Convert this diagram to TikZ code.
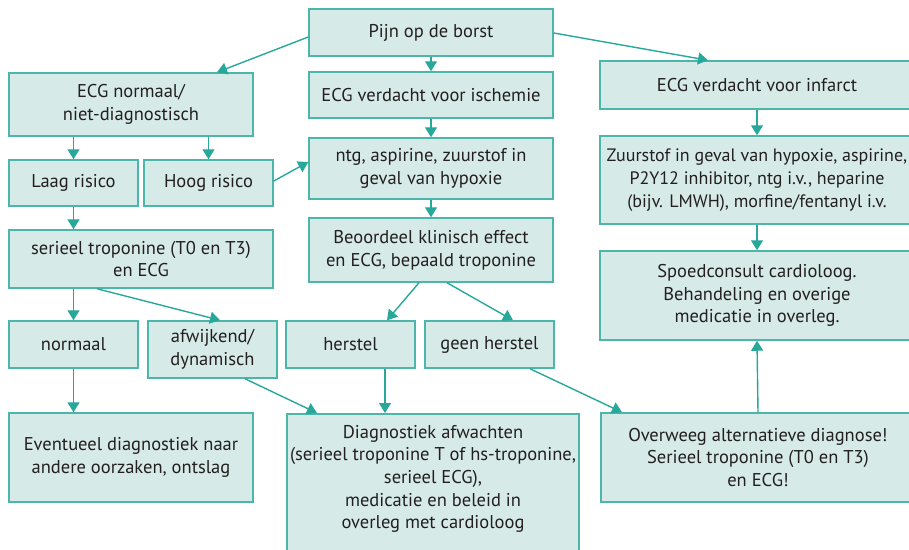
\documentclass[tikz,border=0pt]{standalone}
\usepackage{fontspec}
\setmainfont{PT Sans}
\usetikzlibrary{arrows.meta,calc}
\definecolor{boxfill}{HTML}{D6EAE7}
\definecolor{boxline}{HTML}{4DB6AA}
\definecolor{arrowcol}{HTML}{27A89A}
\definecolor{txtcol}{HTML}{231F20}
\tikzset{
  box/.style={draw=boxline, fill=boxfill, line width=1.5pt, inner sep=0pt,
    align=center, text=txtcol, font=\fontsize{18.5}{22.7}\selectfont},
  txt/.style={align=center, text=txtcol, inner sep=0pt, font=\fontsize{18.5}{22.7}\selectfont},
  flow/.style={draw=arrowcol, line width=1.4pt, -{Triangle[width=12pt,length=10pt]}}
}
\begin{document}
\begin{tikzpicture}[x=1pt,y=-1pt]
\useasboundingbox (0,0) rectangle (909,549);
\clip (0,0) rectangle (909,549);

% first row
\node[box, minimum width=244, minimum height=47] (pijn) at (431,32.5) {Pijn op de borst};
\node[box, minimum width=244, minimum height=63] (nd) at (131,104.5) {ECG normaal/\\niet-diagnostisch};
\node[box, minimum width=244, minimum height=46] (isch) at (431,95) {ECG verdacht voor ischemie};
\node[box, minimum width=314, minimum height=48] (inf) at (757,85) {ECG verdacht voor infarct};

% second row
\node[box, minimum width=129, minimum height=46] (laag) at (73.5,183) {Laag risico};
\node[box, minimum width=129, minimum height=46] (hoog) at (208.5,183) {Hoog risico};
\node[box, minimum width=244, minimum height=61] (ntg) at (431,168.5) {ntg, aspirine, zuurstof in\\geval van hypoxie};
\node[box, minimum width=314, minimum height=88, font=\fontsize{18}{22.7}\selectfont] (zuur) at (757,180) {Zuurstof in geval van hypoxie, aspirine,\\P2Y12 inhibitor, ntg i.v., heparine\\(bijv. LMWH), morfine/fentanyl i.v.};

% third row
\node[box, minimum width=264, minimum height=58] (ser) at (141,259) {serieel troponine (T0 en T3)\\en ECG};
\node[box, minimum width=244, minimum height=64] (beo) at (431,250) {Beoordeel klinisch effect\\en ECG, bepaald troponine};
\node[box, minimum width=314, minimum height=89] (spoed) at (757,295.5) {Spoedconsult cardioloog.\\Behandeling en overige\\medicatie in overleg.};

% fourth row
\node[box, minimum width=129, minimum height=47] (norm) at (73.5,344.5) {normaal};
\node[box, minimum width=129, minimum height=57] (afw) at (212.5,349.5) {afwijkend/\\dynamisch};
\node[box, minimum width=129, minimum height=47] (hers) at (350.5,344.5) {herstel};
\node[box, minimum width=129, minimum height=47] (geen) at (489.5,344.5) {geen herstel};

% bottom row
\node[box, minimum width=244, minimum height=89] (ev) at (131,457.5) {Eventueel diagnostiek naar\\andere oorzaken, ontslag};
\node[box, minimum width=292, minimum height=150, anchor=north] (diag) at (433,413) {};
\node[txt] at (433,479) {Diagnostiek afwachten\\(serieel troponine T of hs-troponine,\\serieel ECG),\\medicatie en beleid in\\overleg met cardioloog};
\node[box, minimum width=314, minimum height=89] (ow) at (758,457.5) {Overweeg alternatieve diagnose!\\Serieel troponine (T0 en T3)\\en ECG!};

% connectors
\draw[flow] ([yshift=-4.5pt]pijn.west) -- ([xshift=86pt]nd.north);
\draw[flow] (pijn.south) -- (isch.north);
\draw[flow] ([yshift=-0.5pt]pijn.east) -- ([xshift=-49pt]inf.north);
\draw[flow] (laag.north |- nd.south) -- (laag.north);
\draw[flow] (hoog.north |- nd.south) -- (hoog.north);
\draw[flow] ([yshift=2pt]hoog.east) -- ([yshift=6.5pt]ntg.west);
\draw[flow] (isch.south) -- (ntg.north);
\draw[flow] (ntg.south) -- (beo.north);
\draw[flow] (laag.south) -- (laag.south |- ser.north);
\draw[flow] (inf.south) -- (zuur.north);
\draw[flow] (zuur.south) -- (spoed.north);
\draw[flow] (norm.north |- ser.south) -- (norm.north);
\draw[flow] ([xshift=-44pt]ser.south) -- ([xshift=7.5pt]afw.north);
\draw[flow] ([xshift=-12pt]beo.south) -- ([xshift=36.5pt]hers.north);
\draw[flow] ([xshift=16pt]beo.south) -- ([xshift=23.5pt]geen.north);
\draw[flow] (norm.south) -- (norm.south |- ev.north);
\draw[flow] ([xshift=32.5pt]afw.south) -- ([xshift=-116pt]diag.north);
\draw[flow] ([xshift=34.5pt]hers.south) -- ([xshift=34.5pt]hers.south |- diag.north);
\draw[flow] ([xshift=40.5pt]geen.south) -- ([xshift=-136pt]ow.north);
\draw[flow] (ow.north) -- (spoed.south);
\end{tikzpicture}
\end{document}
